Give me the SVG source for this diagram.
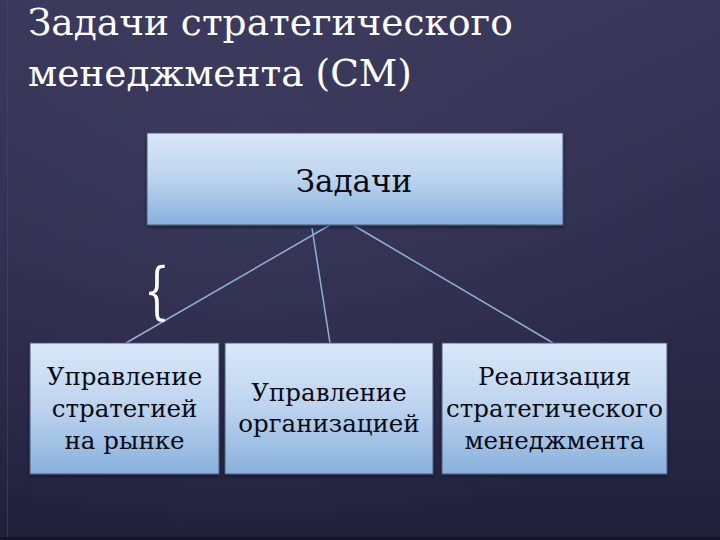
<svg xmlns="http://www.w3.org/2000/svg" width="720" height="540" viewBox="0 0 720 540">
  <defs>
    <linearGradient id="bg" x1="0" y1="0" x2="0" y2="1">
      <stop offset="0" stop-color="#38375a"/>
      <stop offset="0.5" stop-color="#2d2c4c"/>
      <stop offset="1" stop-color="#22213b"/>
    </linearGradient>
    <radialGradient id="glow" cx="0.35" cy="0.3" r="0.7">
      <stop offset="0" stop-color="#4a4a6e" stop-opacity="0.35"/>
      <stop offset="1" stop-color="#4a4a6e" stop-opacity="0"/>
    </radialGradient>
    <linearGradient id="boxfill" x1="0" y1="0" x2="0" y2="1">
      <stop offset="0" stop-color="#dae8f9"/>
      <stop offset="0.5" stop-color="#bcd3ee"/>
      <stop offset="1" stop-color="#88b0dd"/>
    </linearGradient>
    <filter id="shadow" x="-5%" y="-5%" width="110%" height="115%">
      <feDropShadow dx="0" dy="1.5" stdDeviation="1.5" flood-color="#10102a" flood-opacity="0.7"/>
    </filter>
  </defs>
  <style>
    .title { font-family: "DejaVu Serif", serif; font-size: 37.5px; fill: #ffffff; }
    .box { fill: url(#boxfill); stroke: #4b5878; stroke-width: 1; filter: url(#shadow); }
    .label { font-family: "DejaVu Serif", serif; font-size: 24.5px; fill: #0b0b14; text-anchor: middle; }
    .big { font-size: 31px; }
    .conn { stroke: #8fb0d8; stroke-width: 1.5; fill: none; }
    .brace { font-family: "DejaVu Serif", serif; font-size: 62px; fill: #ffffff; }
  </style>

  <rect x="0" y="0" width="720" height="540" fill="url(#bg)"/>
  <rect x="0" y="0" width="720" height="540" fill="url(#glow)"/>
  <line x1="7.5" y1="0" x2="7.5" y2="540" stroke="#4a4a6c" stroke-width="1" opacity="0.5"/>
  <rect x="0" y="537" width="720" height="3" fill="#15142a"/>

  <g id="title">
    <text class="title" x="28" y="35">Задачи стратегического</text>
    <text class="title" x="28" y="86">менеджмента (СМ)</text>
  </g>

  <g id="connectors">
    <line class="conn" x1="330" y1="225" x2="126" y2="343"/>
    <line class="conn" x1="312" y1="228" x2="330" y2="343"/>
    <line class="conn" x1="353" y1="225" x2="553" y2="343"/>
  </g>

  <g id="brace" transform="translate(144,312) scale(0.65,1)">
    <text class="brace" x="0" y="0">{</text>
  </g>

  <g id="node-tasks">
    <rect class="box" x="147" y="133" width="416" height="92"/>
    <text class="label big" x="354" y="192">Задачи</text>
  </g>

  <g id="node-market">
    <rect class="box" x="30" y="343" width="189" height="131"/>
    <text class="label" x="124.5" y="385">Управление</text>
    <text class="label" x="124.5" y="417">стратегией</text>
    <text class="label" x="124.5" y="449">на рынке</text>
  </g>

  <g id="node-org">
    <rect class="box" x="225" y="343" width="208" height="131"/>
    <text class="label" x="329" y="401">Управление</text>
    <text class="label" x="329" y="432">организацией</text>
  </g>

  <g id="node-impl">
    <rect class="box" x="442" y="343" width="225" height="131"/>
    <text class="label" x="554.5" y="385">Реализация</text>
    <text class="label" x="554.5" y="417">стратегического</text>
    <text class="label" x="554.5" y="449">менеджмента</text>
  </g>
</svg>
